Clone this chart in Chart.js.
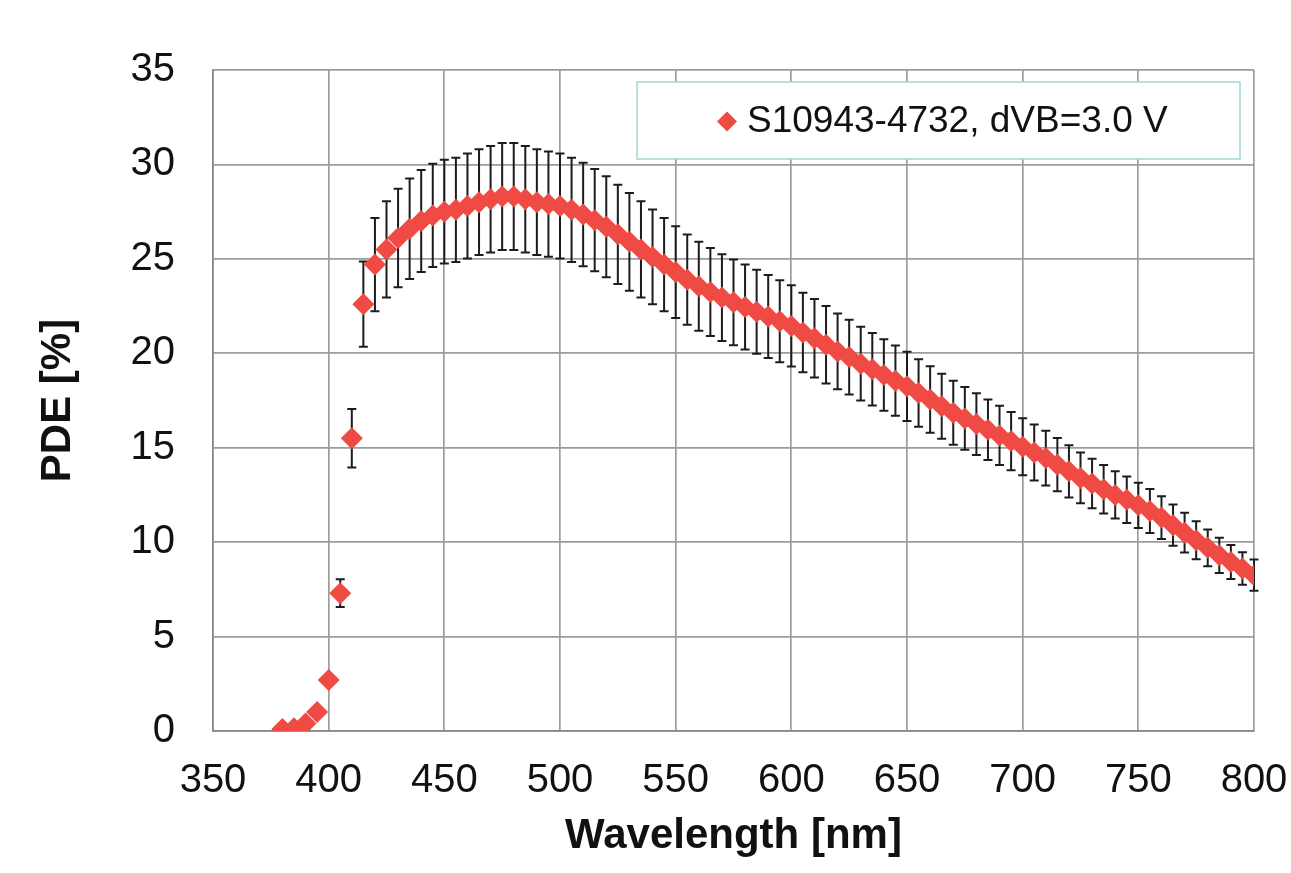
<!DOCTYPE html>
<html>
<head>
<meta charset="utf-8">
<script src="https://cdn.jsdelivr.net/npm/chart.js@4/dist/chart.umd.min.js"></script>
<style>
  html, body { margin: 0; padding: 0; background: #ffffff; }
  #wrap { width: 1291px; height: 873px; }
</style>
</head>
<body>
<div id="wrap"><canvas id="c" width="1291" height="873"></canvas></div>
<script>
// ---- Data ----
const seriesLabel = 'S10943-4732, dVB=3.0 V';
const xTitle = 'Wavelength [nm]';
const yTitle = 'PDE [%]';

const wavelength = [
  380, 385, 390, 395, 400, 405, 410, 415, 420, 425,
  430, 435, 440, 445, 450, 455, 460, 465, 470, 475,
  480, 485, 490, 495, 500, 505, 510, 515, 520, 525,
  530, 535, 540, 545, 550, 555, 560, 565, 570, 575,
  580, 585, 590, 595, 600, 605, 610, 615, 620, 625,
  630, 635, 640, 645, 650, 655, 660, 665, 670, 675,
  680, 685, 690, 695, 700, 705, 710, 715, 720, 725,
  730, 735, 740, 745, 750, 755, 760, 765, 770, 775,
  780, 785, 790, 795, 800
];

const pde = [
  0.1, 0.15, 0.4, 1.0, 2.7, 7.3, 15.5, 22.6, 24.7, 25.5,
  26.1, 26.6, 27.0, 27.3, 27.5, 27.6, 27.8, 28.0, 28.15, 28.3,
  28.3, 28.15, 28.0, 27.9, 27.8, 27.6, 27.35, 27.05, 26.7, 26.3,
  25.9, 25.5, 25.1, 24.7, 24.3, 23.9, 23.55, 23.25, 22.95, 22.7,
  22.45, 22.2, 21.95, 21.7, 21.45, 21.1, 20.8, 20.45, 20.1, 19.8,
  19.45, 19.15, 18.85, 18.55, 18.25, 17.9, 17.55, 17.2, 16.85, 16.55,
  16.25, 15.95, 15.65, 15.35, 15.05, 14.75, 14.45, 14.1, 13.75, 13.4,
  13.1, 12.8, 12.5, 12.25, 11.95, 11.65, 11.3, 10.9, 10.5, 10.1,
  9.7, 9.3, 8.95, 8.6, 8.25
];

const pdeError = [
  0.01, 0.02, 0.04, 0.10, 0.27, 0.73, 1.55, 2.26, 2.47, 2.55,
  2.61, 2.66, 2.70, 2.73, 2.75, 2.76, 2.78, 2.80, 2.82, 2.83,
  2.83, 2.82, 2.80, 2.79, 2.78, 2.76, 2.74, 2.71, 2.67, 2.63,
  2.59, 2.55, 2.51, 2.47, 2.43, 2.39, 2.36, 2.33, 2.30, 2.27,
  2.25, 2.22, 2.20, 2.17, 2.15, 2.11, 2.08, 2.05, 2.01, 1.98,
  1.95, 1.92, 1.89, 1.86, 1.83, 1.79, 1.76, 1.72, 1.69, 1.66,
  1.63, 1.60, 1.57, 1.54, 1.51, 1.48, 1.45, 1.41, 1.38, 1.34,
  1.31, 1.28, 1.25, 1.23, 1.20, 1.17, 1.13, 1.09, 1.05, 1.01,
  0.97, 0.93, 0.90, 0.86, 0.83
];

const xTicks = [350, 400, 450, 500, 550, 600, 650, 700, 750, 800];
const yTicks = [0, 5, 10, 15, 20, 25, 30, 35];

// ---- Styles ----
const markerColor = '#EF4A43';
const fontFamily = '"Liberation Sans", Arial, Helvetica, sans-serif';

const points = wavelength.map((w, i) => ({ x: w, y: pde[i] }));

const errorBarPlugin = {
  id: 'errorBars',
  beforeDatasetsDraw(chart) {
    const { ctx, scales: { x, y } } = chart;
    ctx.save();
    ctx.strokeStyle = '#1c1c1c';
    ctx.lineWidth = 2;
    const cap = 4.5;
    for (let i = 0; i < wavelength.length; i++) {
      const px = x.getPixelForValue(wavelength[i]);
      const yt = y.getPixelForValue(pde[i] + pdeError[i]);
      const yb = y.getPixelForValue(pde[i] - pdeError[i]);
      ctx.beginPath();
      ctx.moveTo(px, yt); ctx.lineTo(px, yb);
      ctx.moveTo(px - cap, yt); ctx.lineTo(px + cap, yt);
      ctx.moveTo(px - cap, yb); ctx.lineTo(px + cap, yb);
      ctx.stroke();
    }
    ctx.restore();
  }
};

const legendBoxPlugin = {
  id: 'legendBox',
  afterDraw(chart) {
    const { ctx } = chart;
    ctx.save();
    const bx = 637, by = 82, bw = 603, bh = 77;
    ctx.fillStyle = '#ffffff';
    ctx.fillRect(bx, by, bw, bh);
    ctx.strokeStyle = '#9fd8d6';
    ctx.lineWidth = 1.5;
    ctx.strokeRect(bx, by, bw, bh);
    const cy = by + bh / 2 + 1;
    const mx = 727, r = 10;
    ctx.fillStyle = markerColor;
    ctx.beginPath();
    ctx.moveTo(mx - r, cy); ctx.lineTo(mx, cy - r); ctx.lineTo(mx + r, cy); ctx.lineTo(mx, cy + r);
    ctx.closePath();
    ctx.fill();
    ctx.fillStyle = '#111111';
    ctx.font = '37px ' + fontFamily;
    ctx.textBaseline = 'middle';
    ctx.textAlign = 'left';
    ctx.fillText(chart.data.datasets[0].label, 747, cy);
    ctx.restore();
  }
};

new Chart(document.getElementById('c'), {
  type: 'scatter',
  data: {
    datasets: [{
      label: seriesLabel,
      data: points,
      showLine: false,
      pointStyle: 'rectRot',
      pointRadius: 11,
      pointHoverRadius: 11,
      pointBackgroundColor: markerColor,
      pointBorderColor: markerColor,
      pointBorderWidth: 0
    }]
  },
  options: {
    responsive: false,
    animation: false,
    events: [],
    layout: { padding: { top: 70, right: 37, left: 0, bottom: 0 } },
    plugins: {
      legend: { display: false },
      tooltip: { enabled: false }
    },
    scales: {
      x: {
        type: 'linear',
        min: xTicks[0],
        max: xTicks[xTicks.length - 1],
        afterBuildTicks(s) { s.ticks = xTicks.map(v => ({ value: v })); },
        afterFit(s) { s.height = 142; s.paddingRight = 0; s.paddingLeft = 0; },
        grid: { color: '#9c9c9c', lineWidth: 1.7, drawTicks: false },
        border: { color: '#8a8a8a', width: 1.7 },
        ticks: {
          color: '#111111',
          font: { family: fontFamily, size: 40 },
          padding: 26,
          maxRotation: 0
        },
        title: {
          display: true,
          text: xTitle,
          color: '#111111',
          font: { family: fontFamily, size: 42, weight: 'bold' },
          padding: { top: 0, bottom: 11 }
        }
      },
      y: {
        type: 'linear',
        min: yTicks[0],
        max: yTicks[yTicks.length - 1],
        afterBuildTicks(s) { s.ticks = yTicks.map(v => ({ value: v })); },
        afterFit(s) { s.width = 213; s.paddingTop = 0; s.paddingBottom = 0; },
        grid: { color: '#9c9c9c', lineWidth: 1.7, drawTicks: false },
        border: { color: '#8a8a8a', width: 1.7 },
        ticks: {
          color: '#111111',
          font: { family: fontFamily, size: 40 },
          padding: 38
        },
        title: {
          display: true,
          text: yTitle,
          color: '#111111',
          font: { family: fontFamily, size: 42, weight: 'bold' },
          padding: { top: 33, bottom: 0 }
        }
      }
    }
  },
  plugins: [errorBarPlugin, legendBoxPlugin]
});
</script>
</body>
</html>
